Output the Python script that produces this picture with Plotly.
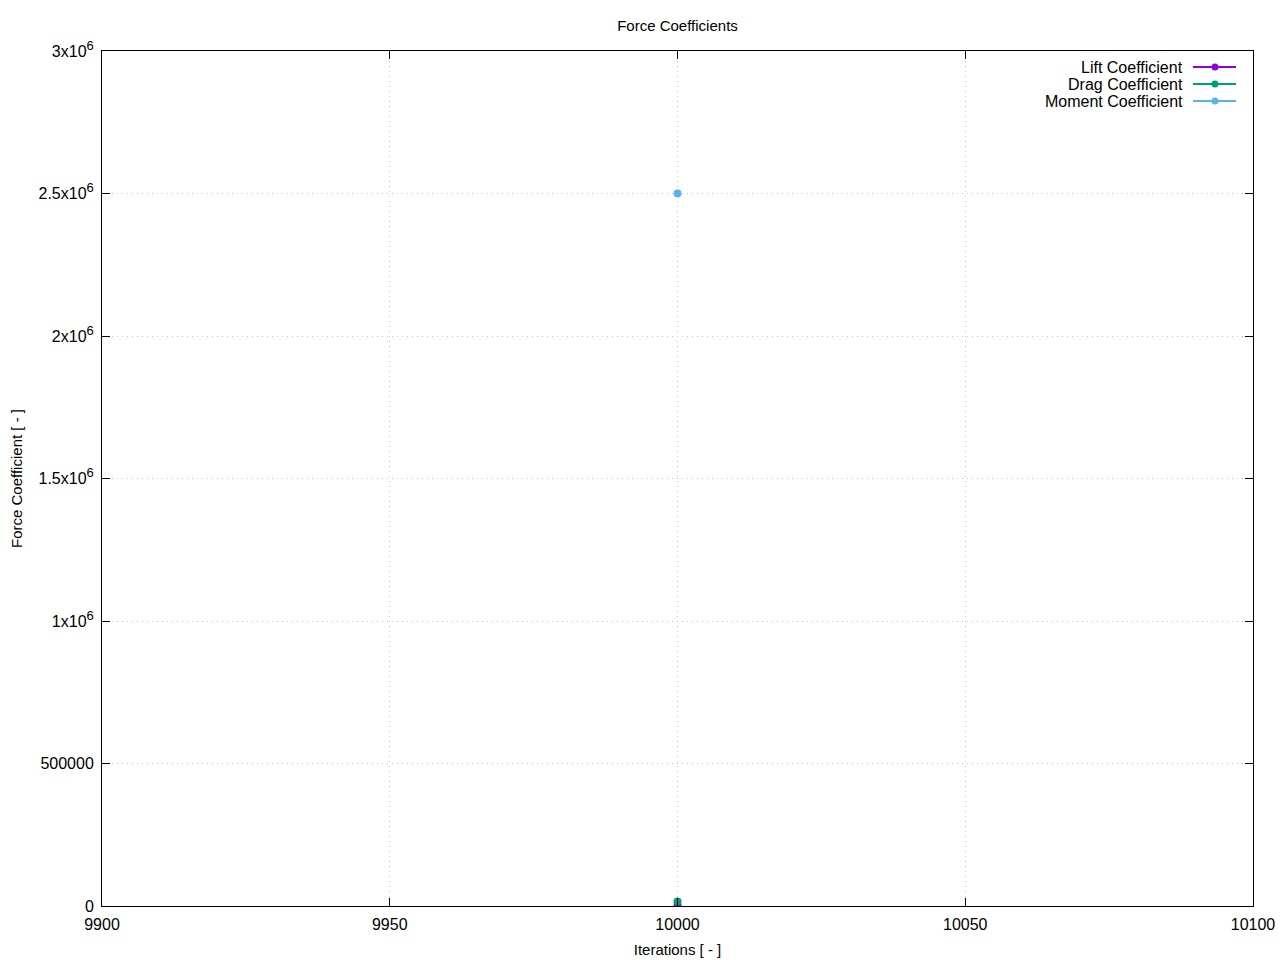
import plotly.graph_objects as go

iterations = [10000]
lift = [3000]
drag = [16000]
moment = [2500000]

series_names = ["Lift Coefficient", "Drag Coefficient", "Moment Coefficient"]
series_colors = ["#9400d3", "#009e73", "#56b4e9"]

x_ticks = [9900, 9950, 10000, 10050, 10100]
y_ticks = [0, 500000, 1000000, 1500000, 2000000, 2500000, 3000000]
SUP = '<sup><span style="font-size:13px">6</span></sup>'
y_tick_labels = ["0", "500000", "1x10" + SUP, "1.5x10" + SUP, "2x10" + SUP,
                 "2.5x10" + SUP, "3x10" + SUP]

FONT = "Liberation Sans, Arial, sans-serif"

fig = go.Figure()
for name, vals, col in zip(series_names, [lift, drag, moment], series_colors):
    fig.add_trace(go.Scatter(x=iterations, y=vals, mode="lines+markers", name=name,
                             line=dict(color=col, width=2),
                             marker=dict(color=col, size=8), showlegend=False))

# gnuplot-style legend (text left of sample); coordinates in pixel space of plot area
L, R, T, B = 102, 1253, 51, 906
W, H = R - L, B - T
def px(x): return (x - L) / W
def py(y): return (B - y) / H
shapes = []
annotations = []
for i, (name, col) in enumerate(zip(series_names, series_colors)):
    yy = 67 + 17 * i
    shapes.append(dict(type="line", xref="paper", yref="paper", x0=px(1193), x1=px(1236),
                       y0=py(yy), y1=py(yy), line=dict(color=col, width=2)))
    shapes.append(dict(type="circle", xref="paper", yref="paper", x0=px(1211.5), x1=px(1218.5),
                       y0=py(yy + 3.5), y1=py(yy - 3.5), fillcolor=col, line=dict(color=col, width=0)))
    annotations.append(dict(xref="paper", yref="paper", x=px(1185), y=py(yy), text=name,
                            showarrow=False, xanchor="right", yanchor="middle",
                            font=dict(family=FONT, size=16, color="black")))

axis_common = dict(showline=True, linecolor="black", linewidth=1, mirror="ticks",
                   ticks="inside", ticklen=8, tickcolor="black", automargin=False,
                   showgrid=True, gridcolor="#c4c4c4", griddash="1px,4px", gridwidth=1,
                   zeroline=False, tickfont=dict(family=FONT, size=16, color="black"))

FW, FH = 1280, 960
fig.update_layout(
    width=FW, height=FH,
    paper_bgcolor="white", plot_bgcolor="white",
    margin=dict(l=L, r=FW - R, t=T, b=FH - B),
    title=dict(text="Force Coefficients", x=0.5, xref="paper",
               y=1 - 26 / FH, yanchor="middle", xanchor="center",
               font=dict(family=FONT, size=15, color="black")),
    xaxis=dict(range=[9900, 10100], tickvals=x_ticks, ticktext=[str(v) for v in x_ticks],
               ticklabelstandoff=4,
               title=dict(text="Iterations [ - ]", font=dict(family=FONT, size=15, color="black"), standoff=12),
               **axis_common),
    yaxis=dict(range=[0, 3000000], tickvals=y_ticks, ticktext=y_tick_labels,
               ticklabelstandoff=4,
               title=dict(text="Force Coefficient [ - ]", font=dict(family=FONT, size=15, color="black"), standoff=12),
               **axis_common),
    shapes=shapes, annotations=annotations,
    showlegend=False,
)

fig.write_html("out.html",
               config={"displayModeBar": False},
               post_script="document.body.style.margin='0';document.body.style.overflow='hidden';")
